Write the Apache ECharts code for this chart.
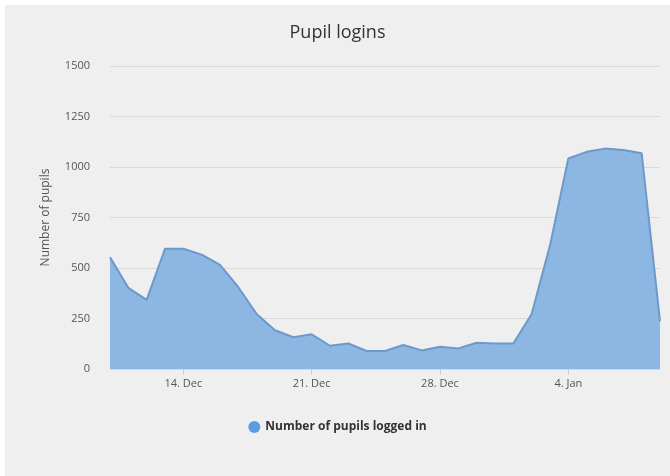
<!DOCTYPE html>
<html>
<head>
<meta charset="utf-8">
<script src="https://cdn.jsdelivr.net/npm/echarts@6/dist/echarts.min.js"></script>
<style>
    html, body { margin: 0; padding: 0; background: #ffffff; }
    #chart { position: absolute; left: 5px; top: 5px; width: 665px; height: 471px; background: #efefef; }
</style>
</head>
<body>
<div id="chart"></div>
<script>
    var days = ['10. Dec', '11. Dec', '12. Dec', '13. Dec', '14. Dec', '15. Dec', '16. Dec', '17. Dec',
        '18. Dec', '19. Dec', '20. Dec', '21. Dec', '22. Dec', '23. Dec', '24. Dec', '25. Dec',
        '26. Dec', '27. Dec', '28. Dec', '29. Dec', '30. Dec', '31. Dec', '1. Jan', '2. Jan',
        '3. Jan', '4. Jan', '5. Jan', '6. Jan', '7. Jan', '8. Jan', '9. Jan'];
    var logins = [553, 402, 342, 595, 595, 566, 515, 405, 272, 192, 157, 172, 115, 126, 89, 89,
        119, 92, 110, 102, 130, 126, 126, 272, 612, 1042, 1075, 1091, 1084, 1068, 236];
    var yTicks = [0, 250, 500, 750, 1000, 1250, 1500];

    // labels only every week, starting at 14. Dec
    function showWeek(i) {
        return (i - 4) % 7 === 0 && i >= 4;
    }

    var chart = echarts.init(document.getElementById('chart'));
    var option = {
        backgroundColor: '#efefef',
        textStyle: { fontFamily: 'Open Sans' },
        title: {
            text: 'Pupil logins',
            left: 'center',
            top: 14,
            textStyle: { fontSize: 18, fontWeight: 'normal', color: '#333333' }
        },
        legend: {
            data: ['Number of pupils logged in'],
            bottom: 38,
            left: 'center',
            icon: 'circle',
            itemWidth: 12,
            itemHeight: 12,
            textStyle: { fontSize: 12, fontWeight: 'bold', color: '#333333' }
        },
        grid: { left: 105, right: 10, top: 61, bottom: 107 },
        xAxis: {
            type: 'category',
            data: days,
            boundaryGap: false,
            axisLine: { lineStyle: { color: '#d8d8d8' } },
            axisTick: { interval: showWeek, length: 6, lineStyle: { color: '#cccccc' } },
            axisLabel: { interval: showWeek, fontSize: 11, color: '#555555', margin: 9 },
            splitLine: { show: false }
        },
        yAxis: {
            type: 'value',
            min: yTicks[0],
            max: yTicks[yTicks.length - 1],
            interval: 250,
            name: 'Number of pupils',
            nameLocation: 'middle',
            nameGap: 58,
            nameTextStyle: { fontSize: 12, color: '#555555' },
            axisLine: { show: false },
            axisTick: { show: false },
            axisLabel: {
                fontSize: 11, color: '#555555', margin: 20,
                formatter: function (v) { return String(v); }
            },
            splitLine: { lineStyle: { color: '#dadada' } }
        },
        series: [{
            name: 'Number of pupils logged in',
            type: 'line',
            data: logins,
            smooth: false,
            symbol: 'none',
            itemStyle: { color: '#5b9be0' },
            lineStyle: { color: '#6d98cb', width: 2 },
            areaStyle: { color: '#8cb7e2', opacity: 1 }
        }]
    };
    chart.setOption(option);
</script>
</body>
</html>
